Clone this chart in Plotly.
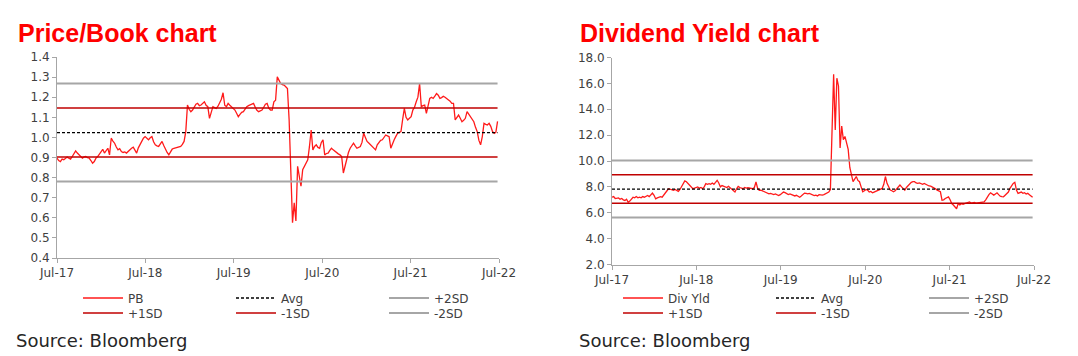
import plotly.graph_objects as go
import pandas as pd

# ---------------- data (weekly readings, Jul-2017 .. Jun-2022) ----------------
start_date = "2017-07-01"

pb = [
    0.897, 0.885, 0.880, 0.892, 0.889, 0.895, 0.902, 0.896, 0.892, 0.905,
    0.918, 0.933, 0.922, 0.913, 0.905, 0.897, 0.903, 0.905, 0.899, 0.897,
    0.885, 0.872, 0.880, 0.897, 0.905, 0.918, 0.930, 0.941, 0.922, 0.935,
    0.946, 0.913, 0.996, 0.982, 0.971, 0.952, 0.938, 0.944, 0.930, 0.925,
    0.928, 0.922, 0.931, 0.938, 0.946, 0.951, 0.935, 0.922, 0.948, 0.963,
    0.985, 0.996, 1.004, 0.995, 0.988, 0.998, 1.004, 0.978, 0.963, 0.958,
    0.955, 0.968, 0.980, 0.960, 0.938, 0.925, 0.913, 0.928, 0.942, 0.946,
    0.949, 0.951, 0.953, 0.955, 0.965, 0.980, 1.029, 1.161, 1.140, 1.128,
    1.136, 1.150, 1.165, 1.169, 1.158, 1.161, 1.170, 1.177, 1.160, 1.153,
    1.095, 1.130, 1.153, 1.148, 1.144, 1.155, 1.169, 1.190, 1.222, 1.160,
    1.153, 1.169, 1.160, 1.153, 1.145, 1.136, 1.120, 1.103, 1.115, 1.125,
    1.128, 1.140, 1.153, 1.158, 1.161, 1.165, 1.169, 1.150, 1.135, 1.128,
    1.132, 1.136, 1.150, 1.165, 1.169, 1.145, 1.136, 1.136, 1.177, 1.185,
    1.301, 1.280, 1.268, 1.262, 1.260, 1.252, 1.243, 1.087, 0.790, 0.576,
    0.674, 0.584, 0.856, 0.806, 0.757, 0.839, 0.856, 0.870, 0.889, 0.955,
    1.037, 0.938, 0.955, 0.963, 0.950, 0.946, 0.975, 0.988, 0.913, 0.920,
    0.922, 0.935, 0.946, 0.938, 0.930, 0.925, 0.918, 0.913, 0.905, 0.823,
    0.860, 0.897, 0.925, 0.946, 0.960, 0.971, 0.958, 0.946, 0.950, 0.955,
    0.975, 1.021, 1.000, 0.980, 0.972, 0.963, 0.955, 0.945, 0.938, 0.963,
    0.975, 0.985, 0.988, 1.000, 1.012, 1.008, 1.004, 0.946, 0.970, 0.988,
    1.005, 1.021, 1.025, 1.029, 1.090, 1.144, 1.100, 1.087, 1.095, 1.103,
    1.136, 1.150, 1.177, 1.200, 1.268, 1.153, 1.158, 1.161, 1.120, 1.160,
    1.194, 1.200, 1.194, 1.205, 1.218, 1.210, 1.194, 1.198, 1.205, 1.200,
    1.194, 1.190, 1.180, 1.169, 1.169, 1.087, 1.100, 1.111, 1.095, 1.078,
    1.085, 1.095, 1.128, 1.115, 1.103, 1.090, 1.078, 1.050, 1.029, 0.985,
    0.963, 1.004, 1.070, 1.065, 1.062, 1.070, 1.055, 1.030, 1.020, 1.025, 1.080,
]

div_yld = [
    7.20, 7.25, 7.10, 7.15, 7.15, 7.05, 7.10, 7.00, 6.95, 7.05,
    6.81, 6.90, 7.10, 7.20, 7.15, 7.25, 7.15, 7.20, 7.15, 7.25,
    7.20, 7.30, 7.33, 7.25, 7.40, 7.52, 7.35, 7.07, 7.15, 7.20,
    7.25, 7.20, 7.40, 7.60, 7.70, 7.86, 7.80, 7.75, 7.73, 7.80,
    7.70, 7.65, 7.80, 8.00, 8.20, 8.46, 8.40, 8.25, 8.10, 7.95,
    7.86, 7.90, 7.95, 8.00, 7.90, 7.95, 7.86, 8.00, 8.25, 8.20,
    8.25, 8.20, 8.30, 8.20, 8.35, 8.51, 8.30, 8.00, 8.10, 8.04,
    8.00, 7.95, 8.05, 7.93, 7.80, 7.75, 7.60, 7.85, 8.04, 7.95,
    7.90, 7.86, 7.95, 7.90, 7.93, 7.90, 7.88, 7.86, 7.95, 8.38,
    7.90, 7.73, 7.75, 7.70, 7.67, 7.60, 7.55, 7.46, 7.50, 7.45,
    7.41, 7.45, 7.40, 7.33, 7.40, 7.50, 7.60, 7.55, 7.45, 7.41,
    7.45, 7.40, 7.33, 7.30, 7.35, 7.25, 7.20, 7.30, 7.45, 7.52,
    7.50, 7.46, 7.49, 7.45, 7.40, 7.33, 7.36, 7.30, 7.40, 7.35,
    7.36, 7.40, 7.45, 7.49, 7.60, 7.80, 12.50, 16.70, 12.40, 16.40,
    15.80, 11.00, 12.70, 11.65, 11.90, 11.40, 10.90, 9.50, 8.93, 8.40,
    8.60, 8.80, 8.50, 8.40, 8.00, 7.62, 7.70, 7.80, 7.75, 7.60,
    7.65, 7.54, 7.60, 7.65, 7.70, 7.80, 7.85, 7.88, 8.20, 8.80,
    8.27, 8.00, 7.75, 7.70, 7.62, 7.70, 7.88, 8.00, 8.14, 8.00,
    7.85, 7.75, 7.95, 8.10, 8.27, 8.35, 8.40, 8.40, 8.30, 8.27,
    8.30, 8.25, 8.20, 8.27, 8.20, 8.10, 8.07, 8.05, 8.00, 7.96,
    7.85, 7.75, 7.70, 7.62, 6.97, 7.00, 7.10, 7.20, 7.23, 7.00,
    6.71, 6.60, 6.45, 6.31, 6.71, 6.60, 6.70, 6.65, 6.70, 6.75,
    6.80, 6.84, 6.75, 6.76, 6.80, 6.75, 6.76, 6.80, 6.78, 6.84,
    6.84, 7.00, 7.23, 7.40, 7.54, 7.45, 7.36, 7.45, 7.54, 7.40,
    7.28, 7.25, 7.23, 7.35, 7.49, 7.60, 7.88, 8.10, 8.27, 8.35,
    7.75, 7.49, 7.55, 7.60, 7.50, 7.55, 7.45, 7.50, 7.40, 7.30, 7.20,
]

# band levels
pb_avg, pb_p1, pb_p2, pb_m1, pb_m2 = 1.024, 1.146, 1.268, 0.902, 0.780
dy_avg, dy_p1, dy_p2, dy_m1, dy_m2 = 7.83, 8.93, 10.03, 6.73, 5.63

x_tick_labels = ["Jul-17", "Jul-18", "Jul-19", "Jul-20", "Jul-21", "Jul-22"]
x_tick_dates = ["2017-07-01", "2018-07-01", "2019-07-01", "2020-07-01", "2021-07-01", "2022-07-01"]

pb_dates = pd.date_range(start_date, periods=len(pb), freq="7D")
dy_dates = pd.date_range(start_date, periods=len(div_yld), freq="7D")

# ---------------- figure ----------------
W, H = 1078, 356
RED = "#FF1A1A"
DARKRED = "#C00000"
GREY = "#A6A6A6"
TXT = "#404040"
FONT = "DejaVu Sans"

fig = go.Figure()

def add_chart(dates, values, name, levels, xa, ya, lg_top, lg_bot):
    n = len(values)
    avg, p1, p2, m1, m2 = levels
    fig.add_trace(go.Scatter(x=dates, y=values, name=name, mode="lines",
                             line=dict(color=RED, width=1.3), xaxis=xa, yaxis=ya,
                             legend=lg_top))
    fig.add_trace(go.Scatter(x=dates, y=[avg] * n, name="Avg", mode="lines",
                             line=dict(color="#000000", width=1.3, dash="3px,2px"),
                             xaxis=xa, yaxis=ya, legend=lg_top))
    fig.add_trace(go.Scatter(x=dates, y=[p2] * n, name="+2SD", mode="lines",
                             line=dict(color=GREY, width=2), xaxis=xa, yaxis=ya,
                             legend=lg_top))
    fig.add_trace(go.Scatter(x=dates, y=[p1] * n, name="+1SD", mode="lines",
                             line=dict(color=DARKRED, width=1.5), xaxis=xa, yaxis=ya,
                             legend=lg_bot))
    fig.add_trace(go.Scatter(x=dates, y=[m1] * n, name="-1SD", mode="lines",
                             line=dict(color=DARKRED, width=1.5), xaxis=xa, yaxis=ya,
                             legend=lg_bot))
    fig.add_trace(go.Scatter(x=dates, y=[m2] * n, name="-2SD", mode="lines",
                             line=dict(color=GREY, width=2), xaxis=xa, yaxis=ya,
                             legend=lg_bot))

add_chart(pb_dates, pb, "PB", (pb_avg, pb_p1, pb_p2, pb_m1, pb_m2), "x", "y", "legend", "legend2")
add_chart(dy_dates, div_yld, "Div Yld", (dy_avg, dy_p1, dy_p2, dy_m1, dy_m2), "x2", "y2", "legend3", "legend4")

def px_x(v):
    return v / W

def px_y(v):
    return 1 - v / H

common_x = dict(type="date", range=["2017-07-01", "2022-07-01"],
                tickvals=x_tick_dates, ticktext=x_tick_labels,
                showgrid=False, zeroline=False, showline=True, linecolor=GREY, linewidth=1,
                ticks="outside", ticklen=4, tickcolor=GREY, automargin=False,
                tickfont=dict(family=FONT, size=12, color=TXT), fixedrange=True)
common_y = dict(showgrid=False, zeroline=False, showline=True, linecolor=GREY, linewidth=1,
                ticks="outside", ticklen=4, tickcolor=GREY, automargin=False,
                tickfont=dict(family=FONT, size=12, color=TXT), fixedrange=True)

fig.update_layout(
    width=W, height=H,
    margin=dict(l=0, r=0, t=0, b=0, pad=0, autoexpand=False),
    paper_bgcolor="white", plot_bgcolor="white",
    xaxis=dict(common_x, domain=[px_x(57), px_x(499)], anchor="y"),
    yaxis=dict(common_y, domain=[px_y(258), px_y(57)], range=[0.4, 1.4], dtick=0.1,
               tickformat=".1f", anchor="x"),
    xaxis2=dict(common_x, domain=[px_x(612), px_x(1034)], anchor="y2"),
    yaxis2=dict(common_y, domain=[px_y(264.5), px_y(57.5)], range=[2, 18], dtick=2,
                tickformat=".1f", anchor="x2"),
)

leg_common = dict(orientation="h", bgcolor="rgba(0,0,0,0)", itemwidth=40,
                  font=dict(family=FONT, size=12, color=TXT),
                  entrywidth=98, entrywidthmode="pixels",
                  xanchor="left", yanchor="middle", traceorder="normal",
                  itemclick=False, itemdoubleclick=False, tracegroupgap=0)
fig.update_layout(
    legend=dict(leg_common, x=px_x(78), y=px_y(298)),
    legend2=dict(leg_common, x=px_x(78), y=px_y(313)),
    legend3=dict(leg_common, x=px_x(618), y=px_y(298)),
    legend4=dict(leg_common, x=px_x(618), y=px_y(313)),
)

annotations = [
    dict(text="<b>Price/Book chart</b>", x=px_x(16), y=px_y(33), xref="paper", yref="paper",
         xanchor="left", yanchor="middle", showarrow=False,
         font=dict(family="Liberation Sans", size=25, color="#FF0000")),
    dict(text="<b>Dividend Yield chart</b>", x=px_x(578), y=px_y(33), xref="paper", yref="paper",
         xanchor="left", yanchor="middle", showarrow=False,
         font=dict(family="Liberation Sans", size=25, color="#FF0000")),
    dict(text="Source: Bloomberg", x=px_x(14), y=px_y(340), xref="paper", yref="paper",
         xanchor="left", yanchor="middle", showarrow=False,
         font=dict(family=FONT, size=18, color="#262626")),
    dict(text="Source: Bloomberg", x=px_x(577), y=px_y(340), xref="paper", yref="paper",
         xanchor="left", yanchor="middle", showarrow=False,
         font=dict(family=FONT, size=18, color="#262626")),
]
fig.update_layout(annotations=annotations)

fig.write_html(
    "out.html",
    config={"displayModeBar": False},
    post_script="document.body.style.margin='0';document.body.style.overflow='hidden';",
)
